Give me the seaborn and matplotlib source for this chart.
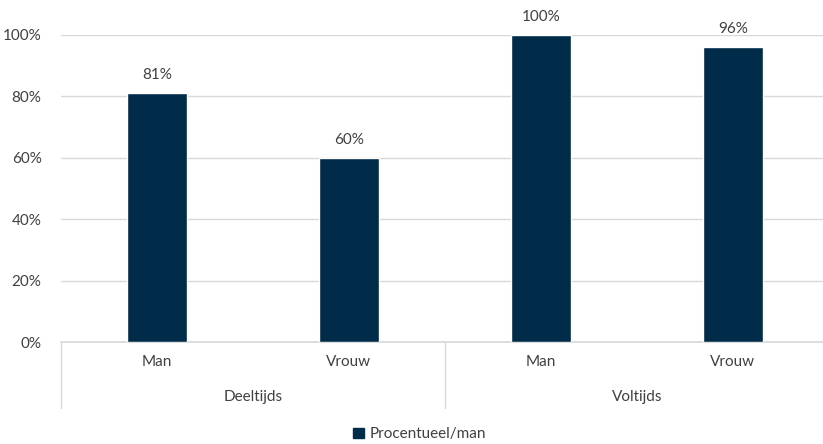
import matplotlib
matplotlib.use("Agg")
import matplotlib.pyplot as plt
import seaborn as sns
import pandas as pd
from matplotlib.patches import Patch

# data
groups = ["Deeltijds", "Deeltijds", "Voltijds", "Voltijds"]
geslacht = ["Man", "Vrouw", "Man", "Vrouw"]
waarden = [0.81, 0.60, 1.00, 0.96]
labels = ["81%", "60%", "100%", "96%"]
y_ticks = [0, 0.2, 0.4, 0.6, 0.8, 1.0]
y_ticklabels = ["0%", "20%", "40%", "60%", "80%", "100%"]
legend_label = "Procentueel/man"

sns.set_theme(style="white")
plt.rcParams['font.family'] = ['Lato', 'DejaVu Sans']

kleur = "#002b49"
tekst = "#404040"
grid = "#d9d9d9"

df = pd.DataFrame({"groep": groups, "geslacht": geslacht, "waarde": waarden})
df["pos"] = [f"{g}-{s}" for g, s in zip(groups, geslacht)]

fig = plt.figure(figsize=(8.23, 4.44), dpi=100)
ax = fig.add_axes([61 / 823, 102 / 444, 768 / 823, 307 / 444])

sns.barplot(data=df, x="pos", y="waarde", color=kleur, width=0.31,
            saturation=1, ax=ax, zorder=3)

ax.set_ylim(0, 1)
ax.set_xlim(-0.5, 3.5)
ax.set_yticks(y_ticks)
ax.set_yticklabels(y_ticklabels, fontsize=11, color=tekst)
ax.yaxis.grid(True, color=grid, linewidth=1)
ax.set_axisbelow(True)
for s in ["top", "right", "left"]:
    ax.spines[s].set_visible(False)
ax.spines["bottom"].set_color(grid)
ax.tick_params(axis="y", length=0, pad=14)
ax.tick_params(axis="x", length=0, pad=9)
ax.set_xticks(range(len(geslacht)))
ax.set_xticklabels(geslacht, fontsize=11, color=tekst)
ax.set_xlabel("")
ax.set_ylabel("")

# data labels
for cont in ax.containers:
    ax.bar_label(cont, labels=labels, padding=8, fontsize=11, color=tekst)

# multi-level category axis
trans = ax.get_xaxis_transform()
for x in [-0.5, 1.5, 3.5]:
    ax.plot([x, x], [0, -66 / 307], transform=trans, color=grid,
            linewidth=1, clip_on=False)
for i, g in enumerate(["Deeltijds", "Voltijds"]):
    ax.text(0.5 + 2 * i, -55 / 307, g, transform=trans, ha="center",
            va="center", fontsize=11, color=tekst)

handle = Patch(facecolor=kleur, edgecolor=kleur)
fig.legend([handle], [legend_label], loc="center", bbox_to_anchor=(0.51, 0.022),
           frameon=False, fontsize=11, handlelength=0.7, handleheight=0.7,
           handletextpad=0.4, labelcolor=tekst)

fig.savefig("out.png", dpi=100)
